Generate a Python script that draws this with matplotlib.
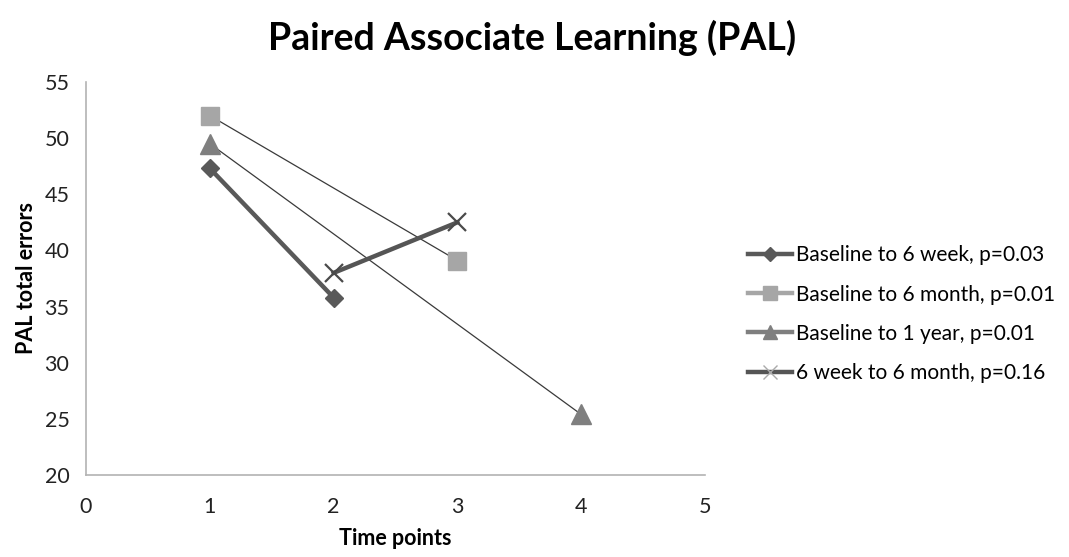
import matplotlib.pyplot as plt
from matplotlib.lines import Line2D

plt.rcParams['font.family'] = ['Lato', 'DejaVu Sans']

# PAL total errors for each comparison (time point, value)
wk6_x = [1, 2]
wk6_y = [47.3, 35.8]
mo6_x = [1, 3]
mo6_y = [52.0, 39.1]
yr1_x = [1, 4]
yr1_y = [49.5, 25.4]
wk6_mo6_x = [2, 3]
wk6_mo6_y = [38.0, 42.5]

labels = [
    "Baseline to 6 week, p=0.03",
    "Baseline to 6 month, p=0.01",
    "Baseline to 1 year, p=0.01",
    "6 week to 6 month, p=0.16",
]

fig = plt.figure(figsize=(10.69, 5.57), dpi=100)
ax = fig.add_axes([0.0805, 0.147, 0.579, 0.706])

# thin lines behind, thick ones on top
ax.plot(mo6_x, mo6_y, color="#3a3a3a", lw=0.9, zorder=2)
ax.plot(mo6_x, mo6_y, ls="none", marker="s", ms=13, color="#a6a6a6", zorder=3)
ax.plot(yr1_x, yr1_y, color="#3a3a3a", lw=0.9, zorder=2)
ax.plot(yr1_x, yr1_y, ls="none", marker="^", ms=14, color="#7f7f7f", zorder=3)
ax.plot(wk6_x, wk6_y, color="#595959", lw=3.2, marker="D", ms=9.5,
        zorder=4)
ax.plot(wk6_mo6_x, wk6_mo6_y, color="#555555", lw=3.2, zorder=4)
ax.plot(wk6_mo6_x, wk6_mo6_y, ls="none", marker="x", ms=13, mew=1.6,
        color="#4a4a4a", zorder=5)

ax.set_xlim(0, 5)
ax.set_ylim(20, 55)
ax.set_xticks(range(0, 6))
ax.set_yticks(range(20, 56, 5))
ax.tick_params(length=0, labelsize=15.5, colors="#222222")
ax.tick_params(axis="x", pad=16)
ax.tick_params(axis="y", pad=12)
for side in ("top", "right"):
    ax.spines[side].set_visible(False)
for side in ("left", "bottom"):
    ax.spines[side].set_color("#b3b3b3")
    ax.spines[side].set_linewidth(1.2)

ax.set_xlabel("Time points", fontsize=15.5, fontweight="bold", labelpad=8)
ax.set_ylabel("PAL total errors", fontsize=15.5, fontweight="bold", labelpad=5)

fig.suptitle("Paired Associate Learning (PAL)", fontsize=27, fontweight="bold",
             x=0.498, y=0.965)

handles = [
    Line2D([], [], color="#595959", lw=3.2, marker="D", ms=7),
    Line2D([], [], color="#a6a6a6", lw=3.2, marker="s", ms=10),
    Line2D([], [], color="#7f7f7f", lw=3.2, marker="^", ms=10),
    Line2D([], [], color="#555555", lw=3.2, marker="x", ms=10, mew=1.0,
           markeredgecolor="#aaaaaa"),
]
fig.legend(handles, labels, loc="center left", bbox_to_anchor=(0.682, 0.436),
           frameon=False, fontsize=15, handlelength=2.1, handletextpad=0.2,
           labelspacing=0.92)

fig.savefig("out.png", dpi=100)
